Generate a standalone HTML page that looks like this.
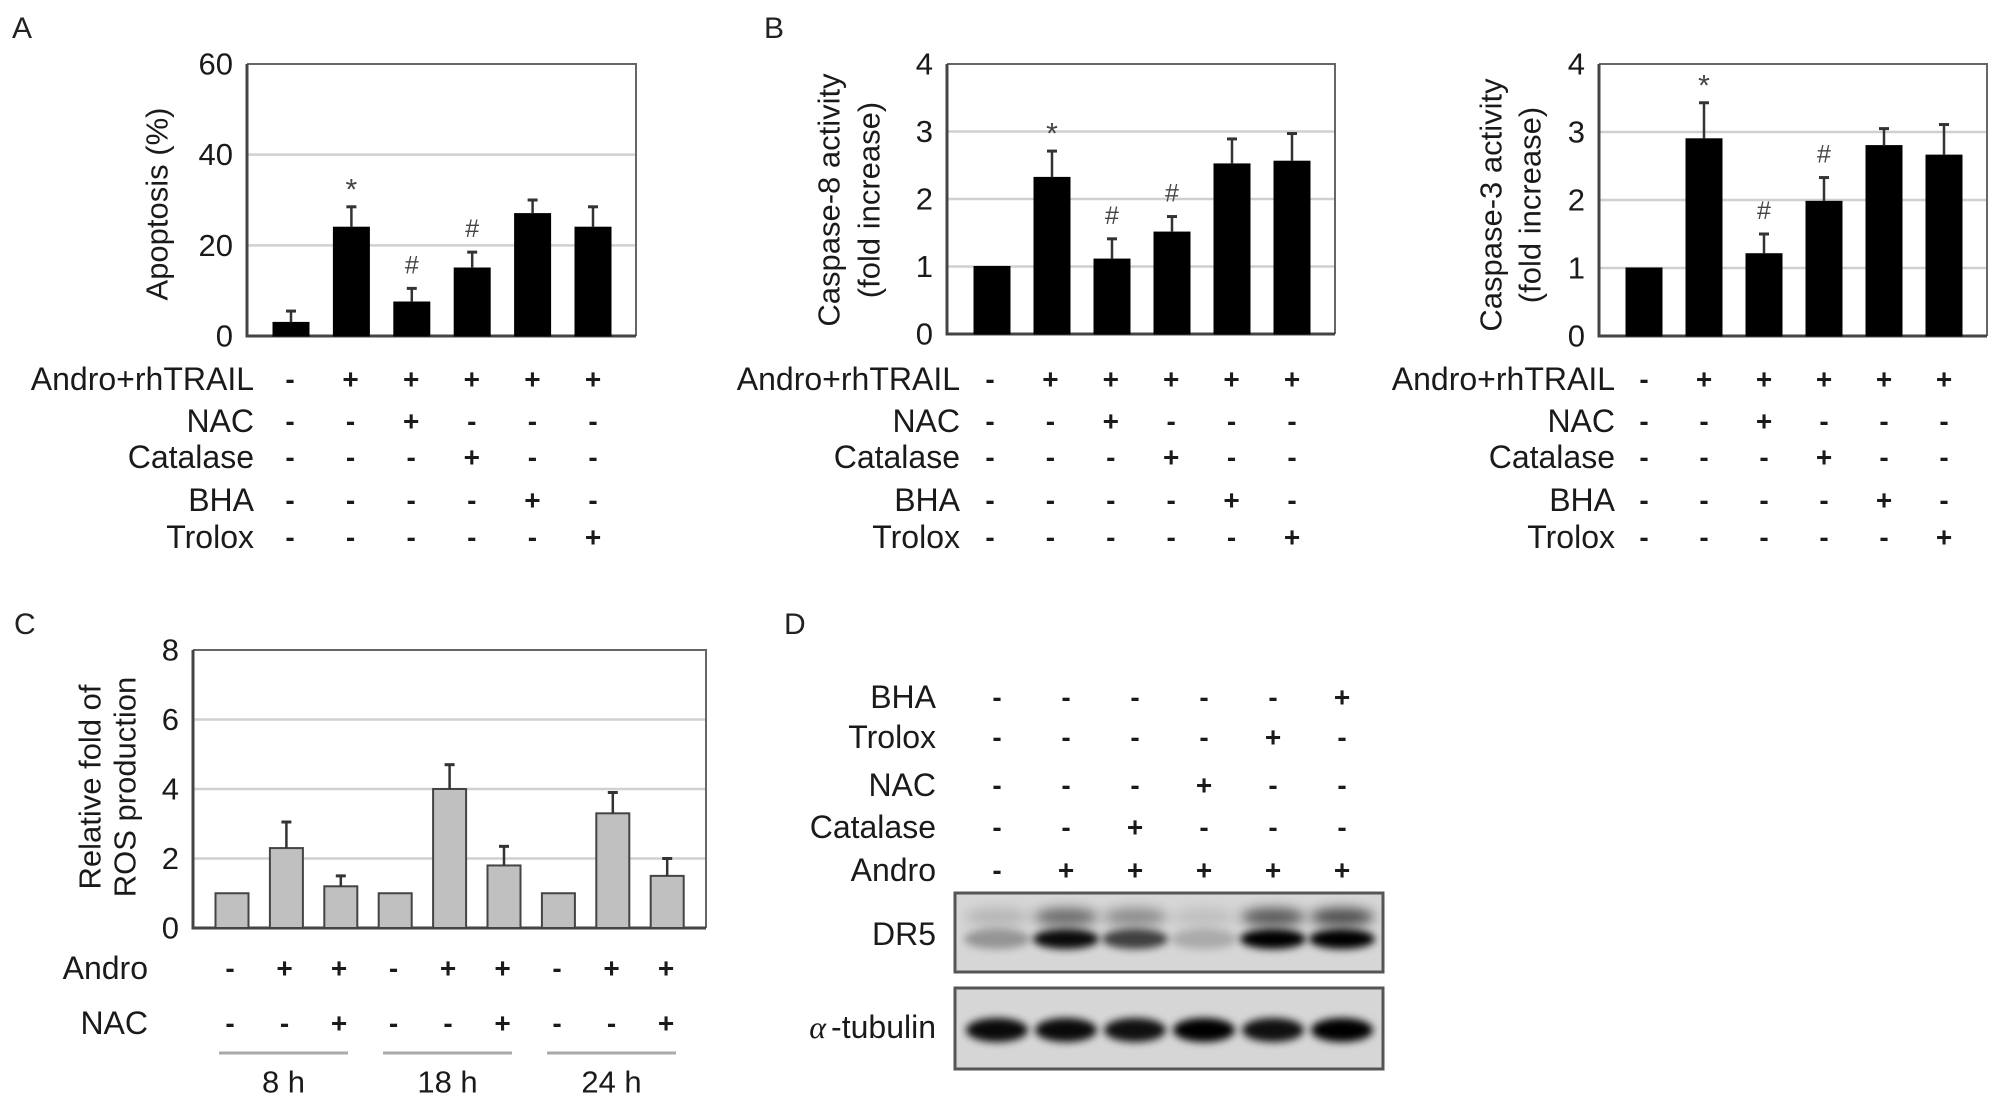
<!DOCTYPE html>
<html><head><meta charset="utf-8">
<style>
html,body{margin:0;padding:0;background:#fff;}
svg{display:block;font-family:"Liberation Sans",Arial,sans-serif;}
</style></head>
<body>
<svg id="fig" width="2013" height="1104" viewBox="0 0 2013 1104" xmlns="http://www.w3.org/2000/svg">
<defs>
<filter id="blur" x="-30%" y="-80%" width="160%" height="260%"><feGaussianBlur stdDeviation="6"/></filter>
<filter id="blur2" x="-30%" y="-80%" width="160%" height="260%"><feGaussianBlur stdDeviation="4"/></filter>
</defs>
<text x="12" y="38" font-size="30" fill="#222">A</text>
<text x="764" y="38" font-size="30" fill="#222">B</text>
<text x="14" y="634" font-size="30" fill="#222">C</text>
<text x="784" y="634" font-size="30" fill="#222">D</text>
</svg>
<script>
// ---------- data ----------
const treatRowsAB = ["Andro+rhTRAIL","NAC","Catalase","BHA","Trolox"];
const signsAndro = ["-","+","+","+","+","+"];
const signsNAC   = ["-","-","+","-","-","-"];
const signsCat   = ["-","-","-","+","-","-"];
const signsBHA   = ["-","-","-","-","+","-"];
const signsTrolox= ["-","-","-","-","-","+"];

const aVals  = [3, 24, 7.5, 15, 27, 24];
const aErr   = [5.5, 28.5, 10.5, 18.5, 30, 28.5];
const aMarks = ["", "*", "#", "#", "", ""];
const aTicks = [0, 20, 40, 60];

const b8Vals  = [1, 2.32, 1.11, 1.51, 2.52, 2.56];
const b8Err   = [null, 2.71, 1.41, 1.74, 2.89, 2.97];
const b8Marks = ["", "*", "#", "#", "", ""];
const b8Ticks = [0, 1, 2, 3, 4];

const b3Vals  = [1, 2.9, 1.21, 1.98, 2.8, 2.66];
const b3Err   = [null, 3.43, 1.5, 2.33, 3.05, 3.11];
const b3Marks = ["", "*", "#", "#", "", ""];
const b3Ticks = [0, 1, 2, 3, 4];

const cVals  = [1, 2.3, 1.2, 1, 4, 1.8, 1, 3.3, 1.5];
const cErr   = [null, 3.05, 1.5, null, 4.7, 2.35, null, 3.9, 2.0];
const cTicks = [0, 2, 4, 6, 8];
const cAndro = ["-","+","+","-","+","+","-","+","+"];
const cNAC   = ["-","-","+","-","-","+","-","-","+"];
const cGroups = ["8 h", "18 h", "24 h"];

const dRows = ["BHA","Trolox","NAC","Catalase","Andro"];
const dBHA    = ["-","-","-","-","-","+"];
const dTrolox = ["-","-","-","-","+","-"];
const dNAC    = ["-","-","-","+","-","-"];
const dCat    = ["-","-","+","-","-","-"];
const dAndro  = ["-","+","+","+","+","+"];
const dr5Lower = [0.3, 0.95, 0.7, 0.2, 1.0, 1.0];
const dr5Upper = [0.15, 0.5, 0.35, 0.1, 0.6, 0.65];
const tubulin  = [0.95, 0.95, 0.92, 1.0, 0.92, 1.0];

// ---------- helpers ----------
const NS = "http://www.w3.org/2000/svg";
const svg = document.getElementById("fig");
function mk(tag, attrs, parent) {
  const e = document.createElementNS(NS, tag);
  for (const k in attrs) e.setAttribute(k, attrs[k]);
  (parent || svg).appendChild(e);
  return e;
}
function txt(x, y, s, size, anchor, parent, extra) {
  const t = mk("text", Object.assign({x: x, y: y, "font-size": size, "text-anchor": anchor || "start", fill: "#1a1a1a", "dominant-baseline": "central"}, extra || {}), parent);
  t.textContent = s;
  return t;
}

function drawChart(id, cfg, vals, errs, marks, ticks) {
  const g = mk("g", {});
  
  
  const ymax = ticks[ticks.length - 1];
  const y = v => cfg.bottom - (v / ymax) * (cfg.bottom - cfg.top);
  const x = i => cfg.x0 + i * cfg.dx;
  ticks.forEach(t => {
    if (t > 0 && t < ymax) {
      const gl = mk("line", {x1: cfg.left, x2: cfg.right, y1: y(t), y2: y(t), stroke: "#d0d0d0", "stroke-width": 2.5}, g);
      
      
    }
    const tl = txt(cfg.left - 14, y(t), String(t), 31, "end", g);
    
    
  });
  const fr = mk("path", {d: `M${cfg.left},${cfg.top} H${cfg.right} V${cfg.bottom}`, fill: "none", stroke: "#666", "stroke-width": 2}, g);
  
  
  const ax = mk("path", {d: `M${cfg.left},${cfg.top} V${cfg.bottom} H${cfg.right}`, fill: "none", stroke: "#444", "stroke-width": 3}, g);
  
  
  vals.forEach((v, i) => {
    const b = mk("rect", {x: x(i) - cfg.bw / 2, y: y(v), width: cfg.bw, height: cfg.bottom - y(v), fill: cfg.fill, stroke: cfg.stroke, "stroke-width": cfg.sw}, g);
    
    
    const e = errs[i];
    if (e !== null && e !== undefined) {
      const el = mk("line", {x1: x(i), x2: x(i), y1: y(v), y2: y(e), stroke: "#333", "stroke-width": 2.5}, g);
      
      
      const ec = mk("line", {x1: x(i) - 5, x2: x(i) + 5, y1: y(e), y2: y(e), stroke: "#333", "stroke-width": 3}, g);
      
      
    }
    if (marks && marks[i]) {
      const top = (e !== null && e !== undefined) ? y(e) : y(v);
      const m = txt(x(i), top - (marks[i] === "*" ? 17 : 23), marks[i], marks[i] === "*" ? 30 : 25, "middle", g, {fill: "#444"});
      
      
    }
  });
  return {g, x, y};
}

function signRows(id, labels, rows, ys, labelRight, x, fontSize) {
  const g = mk("g", {});
  
  
  labels.forEach((lab, r) => {
    const t = txt(labelRight, ys[r], lab, fontSize, "end", g);
    
    
    rows[r].forEach((s, i) => {
      const st = txt(x(i), ys[r], s, 28, "middle", g, {"font-weight": "bold"});
      
      
    });
  });
}
function yTitle(lines, cx, cy, size, id) {
  lines.forEach((l, k) => {
    const t = txt(cx[k], cy, l, size, "middle", null, {transform: `rotate(-90 ${cx[k]} ${cy})`});
    
    
  });
}

// ---------- Panel A ----------
drawChart("chart-apoptosis", {left: 247, right: 636, top: 64, bottom: 336, x0: 291, dx: 60.4, bw: 36, fill: "#000", stroke: "#000", sw: 1}, aVals, aErr, aMarks, aTicks);
yTitle(["Apoptosis (%)"], [157], 204, 31, "y-axis-title");
const rowYs = [379, 421, 457, 500, 537];
signRows("treatment-table-a", treatRowsAB, [signsAndro, signsNAC, signsCat, signsBHA, signsTrolox], rowYs, 254, i => 290 + i * 60.6, 32);

// ---------- Panel B caspase-8 ----------
drawChart("chart-caspase8", {left: 947, right: 1335, top: 64, bottom: 334, x0: 992, dx: 60, bw: 36, fill: "#000", stroke: "#000", sw: 1}, b8Vals, b8Err, b8Marks, b8Ticks);
yTitle(["Caspase-8 activity", "(fold increase)"], [829, 869], 200, 31, "y-axis-title");
signRows("treatment-table-b8", treatRowsAB, [signsAndro, signsNAC, signsCat, signsBHA, signsTrolox], rowYs, 960, i => 990 + i * 60.4, 32);

// ---------- Panel B caspase-3 ----------
drawChart("chart-caspase3", {left: 1599, right: 1987, top: 64, bottom: 336, x0: 1644, dx: 60, bw: 36, fill: "#000", stroke: "#000", sw: 1}, b3Vals, b3Err, b3Marks, b3Ticks);
yTitle(["Caspase-3 activity", "(fold increase)"], [1491, 1530], 205, 31, "y-axis-title");
signRows("treatment-table-b3", treatRowsAB, [signsAndro, signsNAC, signsCat, signsBHA, signsTrolox], rowYs, 1615, i => 1644 + i * 60, 32);

// ---------- Panel C ----------
drawChart("chart-ros", {left: 193, right: 706, top: 650, bottom: 928, x0: 232, dx: 54.4, bw: 33, fill: "#c0c0c0", stroke: "#444", sw: 2}, cVals, cErr, null, cTicks);
yTitle(["Relative fold of", "ROS production"], [90, 125], 787, 31, "y-axis-title");
signRows("treatment-table-c", ["Andro", "NAC"], [cAndro, cNAC], [968, 1023], 148, i => 230 + i * 54.5, 32);
cGroups.forEach((gname, k) => {
  const x1 = 219 + k * 164, x2 = x1 + 129;
  const l = mk("line", {x1: x1, x2: x2, y1: 1053, y2: 1053, stroke: "#aaa", "stroke-width": 3});
  
  
  const t = txt((x1 + x2) / 2, 1082, gname, 31, "middle");
  
  
});

// ---------- Panel D ----------
const dx = i => 997 + i * 69;
signRows("treatment-table-d", dRows, [dBHA, dTrolox, dNAC, dCat, dAndro], [697, 737, 785, 827, 870], 936, dx, 32);
function blot(id, y0, y1, bands) {
  const g = mk("g", {});
  
  
  mk("rect", {x: 955, y: y0, width: 428, height: y1 - y0, fill: "#d6d6d6", stroke: "#555", "stroke-width": 3}, g);
  bands.forEach(b => {
    b.vals.forEach((v, i) => {
      const e = mk("ellipse", {cx: dx(i), cy: b.y, rx: b.rx, ry: b.ry, fill: "#000", opacity: v, filter: b.f}, g);
      
      
    });
  });
}
blot("blot-dr5", 893, 972, [
  {y: 917, rx: 32, ry: 9, vals: dr5Upper, f: "url(#blur)"},
  {y: 939, rx: 33, ry: 10, vals: dr5Lower, f: "url(#blur2)"}
]);
blot("blot-tubulin", 988, 1069, [
  {y: 1030, rx: 31, ry: 12, vals: tubulin, f: "url(#blur2)"}
]);
const dl = txt(936, 934, "DR5", 32, "end");


const tl = txt(936, 1027, "-tubulin", 32, "end");


const al = txt(826, 1027, "α", 32, "end", null, {"font-style": "italic", "font-family": "Liberation Serif, serif"});


</script>
</body></html>
